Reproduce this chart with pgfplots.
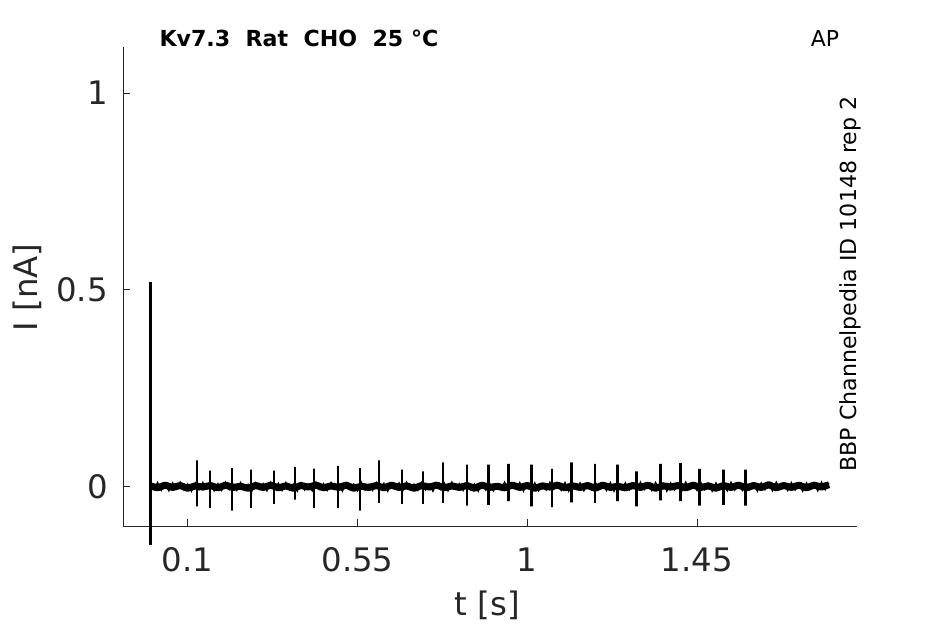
\documentclass[border=0pt]{standalone}
\usepackage{fontspec}
\setmainfont{DejaVu Sans}
\usepackage{pgfplots}
\pgfplotsset{compat=1.18}
\definecolor{axgray}{RGB}{38,38,38}

\begin{document}
\begin{tikzpicture}
\path[use as bounding box] (-123bp,-98bp) rectangle (822bp,526bp);
\begin{axis}[
    at={(0,0)}, anchor=south west,
    scale only axis,
    width=733.5bp, height=479.3bp,
    xmin=-0.0716, xmax=1.8727,
    ymin=-0.0999, ymax=1.1177,
    axis x line*=bottom, axis y line*=left,
    xtick={0.1,0.55,1,1.45},
    xticklabels={0.1,0.55,1,1.45},
    ytick={0,0.5,1},
    yticklabels={0,0.5,1},
    tick align=inside,
    major tick length=7bp,
    tick style={axgray, line width=0.8bp},
    axis line style={axgray, line width=0.8bp},
    ticklabel style={font=\fontsize{32.5}{32.5}\selectfont, text=axgray},
    xticklabel style={anchor=base, yshift=-45.7bp},
    yticklabel style={anchor=east, inner sep=0pt, xshift=-15bp},
    /pgf/number format/assume math mode=true,
    xlabel={t [s]},
    ylabel={I [nA]},
    label style={font=\fontsize{32.5}{32.5}\selectfont, text=axgray},
    xlabel style={at={(axis description cs:0.497,0)}, anchor=base, yshift=-89bp},
    ylabel style={at={(axis description cs:0,0.4976)}, anchor=base, yshift=85.7bp},
    clip=false,
]

% baseline (trace core)
\addplot[black, line width=7bp, line join=round, no marks] coordinates {
(0.00,0.002) (0.02,-0.003) (0.04,0.004) (0.06,-0.002) (0.08,0.003)
(0.10,-0.004) (0.12,0.002) (0.14,-0.001) (0.16,0.003) (0.18,-0.003)
(0.20,0.004) (0.22,-0.002) (0.24,0.001) (0.26,-0.004) (0.28,0.003)
(0.30,-0.002) (0.32,0.004) (0.34,-0.003) (0.36,0.002) (0.38,-0.004)
(0.40,0.003) (0.42,-0.001) (0.44,0.004) (0.46,-0.003) (0.48,0.002)
(0.50,-0.002) (0.52,0.004) (0.54,-0.004) (0.56,0.001) (0.58,-0.002)
(0.60,0.003) (0.62,-0.003) (0.64,0.004) (0.66,-0.002) (0.68,0.002)
(0.70,-0.004) (0.72,0.003) (0.74,-0.001) (0.76,0.004) (0.78,-0.003)
(0.80,0.002) (0.82,-0.002) (0.84,0.003) (0.86,-0.004) (0.88,0.004)
(0.90,-0.002) (0.92,0.001) (0.94,-0.003) (0.96,0.004) (0.98,-0.002)
(1.00,0.003) (1.02,-0.004) (1.04,0.002) (1.06,-0.001) (1.08,0.004)
(1.10,-0.003) (1.12,0.002) (1.14,-0.002) (1.16,0.003) (1.18,-0.004)
(1.20,0.004) (1.22,-0.002) (1.24,0.001) (1.26,-0.003) (1.28,0.003)
(1.30,-0.002) (1.32,0.004) (1.34,-0.004) (1.36,0.002) (1.38,-0.001)
(1.40,0.003) (1.42,-0.003) (1.44,0.004) (1.46,-0.002) (1.48,0.002)
(1.50,-0.004) (1.52,0.003) (1.54,-0.002) (1.56,0.004) (1.58,-0.003)
(1.60,0.003) (1.62,-0.002) (1.64,0.005) (1.66,-0.003) (1.68,0.003)
(1.70,-0.002) (1.72,0.004) (1.74,-0.003) (1.76,0.004) (1.78,-0.001)
(1.80,0.005)
};

% baseline noise (ragged edges)
\addplot[black, line width=1.2bp, no marks] coordinates {
(0.00,0.009) (0.01,-0.007) (0.02,0.011) (0.03,-0.010) (0.04,0.006) (0.05,-0.011) (0.06,0.010) (0.07,-0.006) (0.08,0.012) (0.09,-0.009)
(0.10,0.007) (0.11,-0.012) (0.12,0.010) (0.13,-0.008) (0.14,0.011) (0.15,-0.006) (0.16,0.009) (0.17,-0.011) (0.18,0.008) (0.19,-0.010)
(0.20,0.012) (0.21,-0.008) (0.22,0.007) (0.23,-0.010) (0.24,0.011) (0.25,-0.009) (0.26,0.006) (0.27,-0.012) (0.28,0.010) (0.29,-0.007)
(0.30,0.008) (0.31,-0.011) (0.32,0.012) (0.33,-0.006) (0.34,0.009) (0.35,-0.010) (0.36,0.011) (0.37,-0.008) (0.38,0.007) (0.39,-0.012)
(0.40,0.010) (0.41,-0.009) (0.42,0.006) (0.43,-0.011) (0.44,0.012) (0.45,-0.007) (0.46,0.008) (0.47,-0.010) (0.48,0.011) (0.49,-0.006)
(0.50,0.009) (0.51,-0.012) (0.52,0.010) (0.53,-0.008) (0.54,0.007) (0.55,-0.011) (0.56,0.012) (0.57,-0.009) (0.58,0.006) (0.59,-0.010)
(0.60,0.011) (0.61,-0.007) (0.62,0.009) (0.63,-0.012) (0.64,0.008) (0.65,-0.006) (0.66,0.010) (0.67,-0.011) (0.68,0.012) (0.69,-0.008)
(0.70,0.007) (0.71,-0.010) (0.72,0.011) (0.73,-0.009) (0.74,0.006) (0.75,-0.012) (0.76,0.009) (0.77,-0.007) (0.78,0.010) (0.79,-0.011)
(0.80,0.012) (0.81,-0.006) (0.82,0.008) (0.83,-0.010) (0.84,0.011) (0.85,-0.008) (0.86,0.007) (0.87,-0.012) (0.88,0.009) (0.89,-0.009)
(0.90,0.010) (0.91,-0.011) (0.92,0.006) (0.93,-0.007) (0.94,0.012) (0.95,-0.010) (0.96,0.008) (0.97,-0.006) (0.98,0.011) (0.99,-0.012)
(1.00,0.009) (1.01,-0.008) (1.02,0.010) (1.03,-0.011) (1.04,0.007) (1.05,-0.009) (1.06,0.012) (1.07,-0.007) (1.08,0.006) (1.09,-0.010)
(1.10,0.011) (1.11,-0.012) (1.12,0.008) (1.13,-0.006) (1.14,0.010) (1.15,-0.011) (1.16,0.009) (1.17,-0.008) (1.18,0.012) (1.19,-0.007)
(1.20,0.006) (1.21,-0.010) (1.22,0.011) (1.23,-0.012) (1.24,0.009) (1.25,-0.007) (1.26,0.010) (1.27,-0.009) (1.28,0.008) (1.29,-0.011)
(1.30,0.012) (1.31,-0.008) (1.32,0.007) (1.33,-0.010) (1.34,0.011) (1.35,-0.006) (1.36,0.009) (1.37,-0.012) (1.38,0.010) (1.39,-0.009)
(1.40,0.008) (1.41,-0.011) (1.42,0.012) (1.43,-0.007) (1.44,0.006) (1.45,-0.010) (1.46,0.011) (1.47,-0.008) (1.48,0.009) (1.49,-0.012)
(1.50,0.010) (1.51,-0.006) (1.52,0.009) (1.53,-0.011) (1.54,0.012) (1.55,-0.009) (1.56,0.007) (1.57,-0.010) (1.58,0.011) (1.59,-0.008)
(1.60,0.007) (1.61,-0.012) (1.62,0.010) (1.63,-0.008) (1.64,0.009) (1.65,-0.011) (1.66,0.012) (1.67,-0.006) (1.68,0.008) (1.69,-0.010)
(1.70,0.011) (1.71,-0.009) (1.72,0.006) (1.73,-0.012) (1.74,0.010) (1.75,-0.007) (1.76,0.009) (1.77,-0.011) (1.78,0.012) (1.79,-0.008)
(1.80,0.010)
};

% AP-evoked transients
\addplot[black, line width=2.4bp, no marks] coordinates {
(0.125,0.002) (0.125,0.067) (0.125,-0.050) (0.125,0.002)
(0.159,0.002) (0.159,0.041) (0.159,-0.054) (0.159,0.002)
(0.218,0.002) (0.218,0.047) (0.218,-0.061) (0.218,0.002)
(0.268,0.002) (0.268,0.043) (0.268,-0.054) (0.268,0.002)
(0.329,0.002) (0.329,0.041) (0.329,-0.044) (0.329,0.002)
(0.385,0.002) (0.385,0.050) (0.385,-0.033) (0.385,0.002)
(0.435,0.002) (0.435,0.046) (0.435,-0.054) (0.435,0.002)
(0.499,0.002) (0.499,0.053) (0.499,-0.054) (0.499,0.002)
(0.557,0.002) (0.557,0.047) (0.557,-0.061) (0.557,0.002)
(0.607,0.002) (0.607,0.067) (0.607,-0.041) (0.607,0.002)
(0.668,0.002) (0.668,0.043) (0.668,-0.044) (0.668,0.002)
(0.724,0.002) (0.724,0.039) (0.724,-0.044) (0.724,0.002)
(0.777,0.002) (0.777,0.062) (0.777,-0.041) (0.777,0.002)
(0.841,0.002) (0.841,0.056) (0.841,-0.048) (0.841,0.002)
(0.897,0.002) (0.897,0.056) (0.897,-0.046) (0.897,0.002)
(0.950,0.002) (0.950,0.058) (0.950,-0.037) (0.950,0.002)
(1.011,0.002) (1.011,0.056) (1.011,-0.050) (1.011,0.002)
(1.066,0.002) (1.066,0.045) (1.066,-0.052) (1.066,0.002)
(1.117,0.002) (1.117,0.062) (1.117,-0.040) (1.117,0.002)
(1.180,0.002) (1.180,0.058) (1.180,-0.041) (1.180,0.002)
(1.239,0.002) (1.239,0.056) (1.239,-0.037) (1.239,0.002)
(1.289,0.002) (1.289,0.039) (1.289,-0.050) (1.289,0.002)
(1.353,0.002) (1.353,0.058) (1.353,-0.035) (1.353,0.002)
(1.406,0.002) (1.406,0.060) (1.406,-0.037) (1.406,0.002)
(1.456,0.002) (1.456,0.045) (1.456,-0.048) (1.456,0.002)
(1.520,0.002) (1.520,0.043) (1.520,-0.046) (1.520,0.002)
(1.578,0.002) (1.578,0.043) (1.578,-0.048) (1.578,0.002)
};

% capacitive artefact at t = 0
\addplot[black, line width=3bp, no marks] coordinates {
(0.0,0.52) (0.0,-0.147)
};

\end{axis}

\node[anchor=base west, font=\fontsize{22.2}{22.2}\selectfont\bfseries] at (33bp,479.3bp) {Kv7.3\ \ Rat\ \ CHO\ \ 25 °C};
\node[anchor=base, font=\fontsize{22}{22}\selectfont] at (702bp,479.3bp) {AP};
\node[rotate=90, anchor=base, font=\fontsize{22.2}{22.2}\selectfont] at (733bp,242bp) {BBP Channelpedia ID 10148 rep 2};
\end{tikzpicture}
\end{document}
